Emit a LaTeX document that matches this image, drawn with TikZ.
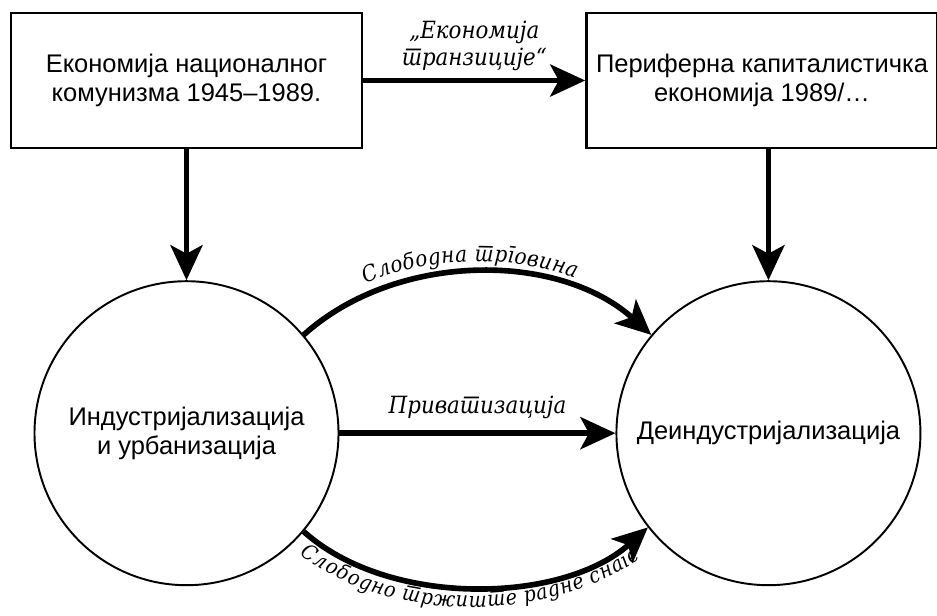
\documentclass[tikz,border=0pt]{standalone}
\usepackage{fontspec}
\setmainfont{Liberation Sans}
\newfontfamily\kurziv[Script=Cyrillic,Language=Serbian]{DejaVu Serif Condensed}
\newcommand{\oznakafont}{\kurziv\itshape\fontsize{12.6pt}{15pt}\selectfont}
\usetikzlibrary{positioning,arrows.meta,decorations.text}

\begin{document}
\begin{tikzpicture}
            [
                kutija/.style={rectangle, draw, line width=1.4pt, minimum width=7.02cm, minimum height=2.7cm, align=center, font=\fontsize{14.5pt}{16.5pt}\selectfont},
                krug/.style={circle, draw, line width=1.1pt, minimum size=6.08cm, inner sep=0pt, align=center, font=\fontsize{14.5pt}{16.5pt}\selectfont},
                strelica/.style={line width=3.2pt, -{Stealth[length=0.7cm, width=0.64cm, inset=0.17cm]}},
                oznaka/.style={font=\oznakafont\fontsize{13.5pt}{15.5pt}\selectfont, align=center},
            ]
            %obs: 1px = 0.02cm
            \useasboundingbox (0,0) rectangle (18.74,-12.3);
            \node[kutija] (nacionalni) at (3.73,-1.61) {Економија националног\\комунизма 1945–1989.};
            \node[kutija] (periferni) [right=4.44cm of nacionalni] {Периферна капиталистичка\\економија 1989/…};
            \node[krug] (industrija) [below=2.62cm of nacionalni] {Индустријализација\\и урбанизација};
            \node[krug] (deindustrija) [right=5.52cm of industrija] {Деиндустријализација};

            \draw[strelica] (nacionalni) -- node[oznaka, above=0.02cm] {„Економија\\транзиције“} (periferni);
            \draw[strelica] (nacionalni) -- (industrija);
            \draw[strelica] (periferni.south -| deindustrija) -- (deindustrija);
            \draw[strelica] (industrija) -- node[oznaka, above=0.12cm] {Приватизација} (deindustrija);
            \draw[strelica, postaction={decorate, decoration={text along path, text align={align=center, right indent=0.3cm}, raise=0.22cm,
                text={|\oznakafont|Слободна трговина}}}]
                (industrija.40) to[out=42, in=138, looseness=0.92] (deindustrija.140);
            \draw[strelica, postaction={decorate, decoration={text along path, text align={align=center, right indent=0.25cm}, raise=-0.4cm,
                text={|\oznakafont\fontsize{12pt}{14pt}\selectfont|Слободно тржиште радне снаге}}}]
                (industrija.-40) to[out=-42, in=-138, looseness=0.85] (deindustrija.-142);
\end{tikzpicture}
\end{document}
